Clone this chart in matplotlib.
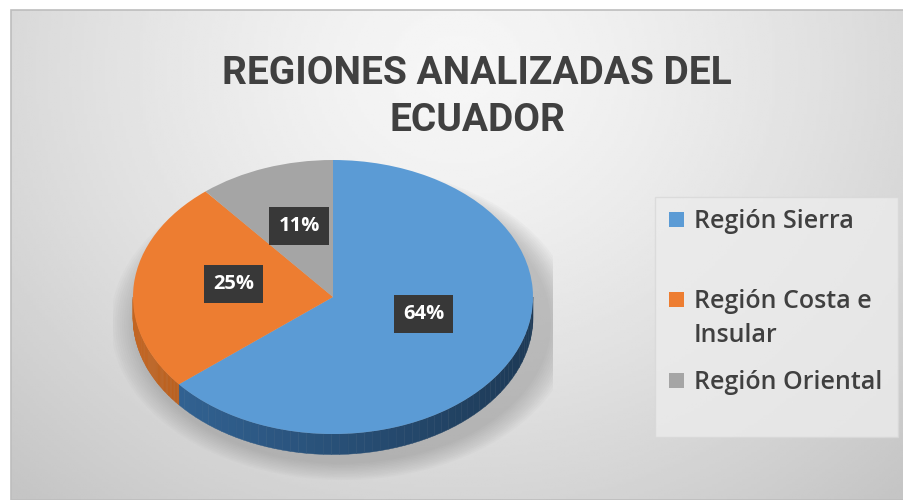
import numpy as np
import matplotlib.pyplot as plt
from matplotlib.patches import Rectangle, Polygon, Ellipse
from matplotlib.colors import to_rgb

labels = ['Región Sierra', 'Región Costa e\nInsular', 'Región Oriental']
values = [64, 25, 11]
colors = ['#5b9bd5', '#ed7d31', '#a5a5a5']
side_colors = ['#2e5b88', '#ad5a1e', '#6f6f6f']
title = 'REGIONES ANALIZADAS DEL\nECUADOR'

W, H = 904, 500
fig = plt.figure(figsize=(W / 100, H / 100), dpi=100)
fig.patch.set_facecolor('white')

# background gradient (chart area)
bg = fig.add_axes([11 / W, 0, 1 - 11 / W, 1 - 10 / H])
yy, xx = np.mgrid[0:1:200j, 0:1:300j]
d = np.sqrt(((xx - 0.5) / 0.75) ** 2 + ((yy - 0.12) / 1.2) ** 2)
shade = np.clip(0.965 - 0.2 * d ** 1.4, 0.77, 0.97)
bg.imshow(shade, cmap='gray', vmin=0, vmax=1, aspect='auto', extent=[0, 1, 1, 0])
bg.set_axis_off()
fig.add_artist(Rectangle((11 / W, 0), 1 - 11 / W, 1 - 10 / H, transform=fig.transFigure,
                         fill=False, edgecolor='#bdbdbd', lw=1.2))

# pie axes: 1 unit = 200 px horizontally, 137 px vertically
cx, cy, rx, ry = 333, 297, 200, 137
xl = (-1.1, 1.1)
yl = (-1.35, 1.1)
ax = fig.add_axes([(cx + xl[0] * rx) / W, (H - cy + yl[0] * ry) / H,
                   (xl[1] - xl[0]) * rx / W, (yl[1] - yl[0]) * ry / H])
ax.set_axis_off()

depth = 0.15

# soft shadow
for k in range(12):
    ax.add_patch(Ellipse((0.05, -depth - 0.04), 2.08 + k * 0.022, 2.05 + k * 0.022,
                         facecolor='#808080', edgecolor='none', alpha=0.04, zorder=1))

wedges, texts = ax.pie(values, colors=colors, startangle=90, counterclock=False,
                       radius=1, wedgeprops=dict(linewidth=0))
for w in wedges:
    w.set_zorder(3)

# side walls of the front half
for w, sc in zip(wedges, side_colors):
    t1, t2 = w.theta1 % 360, w.theta2 % 360
    if t2 <= t1:
        t2 += 360
    base = np.array(to_rgb(sc))
    for off in (0, 360):
        a, b = max(t1, 180 + off), min(t2, 360 + off)
        if b <= a:
            continue
        ts = np.linspace(a, b, 60)
        for i in range(len(ts) - 1):
            ta, tb = np.radians(ts[i]), np.radians(ts[i + 1])
            f = 0.88 - 0.25 * np.cos((ta + tb) / 2)
            c = np.clip(base * f, 0, 1)
            poly = [(np.cos(ta), np.sin(ta)), (np.cos(tb), np.sin(tb)),
                    (np.cos(tb), np.sin(tb) - depth), (np.cos(ta), np.sin(ta) - depth)]
            ax.add_patch(Polygon(poly, closed=True, facecolor=c, edgecolor=c,
                                 lw=0.3, zorder=2))

# percentage labels
for w, v in zip(wedges, values):
    mid = np.radians((w.theta1 + w.theta2) / 2)
    ax.text(0.5 * np.cos(mid), 0.5 * np.sin(mid) + (0.09 if v > 50 else 0.05), f'{v}%',
            ha='center', va='center', color='white', fontsize=14.5, fontweight='bold',
            family='Open Sans', zorder=5,
            bbox=dict(boxstyle='square,pad=0.45', facecolor='#383838', edgecolor='none'))

ax.set_aspect('auto')
ax.set_xlim(*xl)
ax.set_ylim(*yl)

# title
fig.text(477 / W, 1 - 97 / H, title, ha='center', va='center', fontsize=28,
         fontweight='bold', color='#404040', family='Roboto',
         linespacing=1.35)

# legend
fig.add_artist(Rectangle((655 / W, 1 - 437 / H), 243 / W, 240 / H, transform=fig.transFigure,
                         facecolor='#ececec', edgecolor='#d8d8d8', lw=1, alpha=0.8))
leg_y = [220, 300, 381]
for lab, col, y in zip(labels, colors, leg_y):
    fig.add_artist(Rectangle((669 / W, 1 - (y + 7) / H), 15 / W, 15 / H,
                             transform=fig.transFigure, facecolor=col, edgecolor='none'))
    fig.text(694 / W, 1 - (y - 11) / H, lab, ha='left', va='top', fontsize=18,
             color='#404040', family='Open Sans', fontweight='semibold', linespacing=1.45)

fig.savefig('out.png', dpi=100)
